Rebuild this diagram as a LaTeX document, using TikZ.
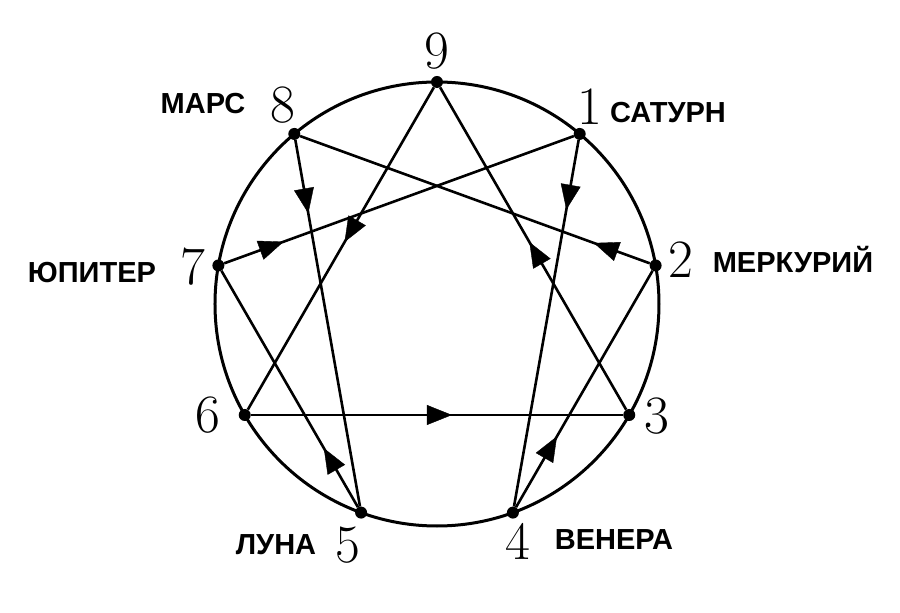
\documentclass[tikz,border=0pt]{standalone}
\usepackage{fontspec}
\newfontfamily\planetfont{Liberation Sans}
\usetikzlibrary{arrows.meta, decorations.markings}

\begin{document}
\begin{tikzpicture}[x=1pt, y=1pt,
    vertex/.style={circle, fill=black, inner sep=0pt, minimum size=12pt},
    digit/.style={font=\fontsize{54}{54}\selectfont, inner sep=0pt, text height=35pt, text depth=0pt},
    planet/.style={font={\planetfont\bfseries\fontsize{29}{29}\selectfont}, inner sep=0pt, text height=21pt, text depth=0pt},
    flow/.style={line width=2.6pt, postaction={decorate, decoration={markings, mark=at position #1 with {\arrow[line width=0.4pt]{Triangle[length=25pt, width=20pt]}}}}}]
    \useasboundingbox (-437,-309) rectangle (463,304);

    \node (ring) [circle, draw, line width=3pt, outer sep=0pt, inner sep=0pt, minimum size=444pt] at (0,0) {};

    % points on the circle
    \node (v9) [vertex] at (ring.90) {};
    \node (v1) [vertex] at (ring.50) {};
    \node (v2) [vertex] at (ring.10) {};
    \node (v3) [vertex] at (ring.-30) {};
    \node (v4) [vertex] at (ring.-70) {};
    \node (v5) [vertex] at (ring.-110) {};
    \node (v6) [vertex] at (ring.-150) {};
    \node (v7) [vertex] at (ring.170) {};
    \node (v8) [vertex] at (ring.130) {};

    % numbers
    \node (n9) [digit] at (0,253) {9};
    \node (n1) [digit] at (153,197) {1};
    \node (n2) [digit] at (244,44) {2};
    \node (n3) [digit] at (220,-112) {3};
    \node (n4) [digit] at (81,-238) {4};
    \node (n5) [digit] at (-89,-241) {5};
    \node (n6) [digit] at (-229,-111) {6};
    \node (n7) [digit] at (-244,37) {7};
    \node (n8) [digit] at (-154,199) {8};

    % planets
    \node (mars) [planet] at (-234,201) {МАРС};
    \node (saturn) [planet] at (231,192) {САТУРН};
    \node (mercury) [planet] at (356,42) {МЕРКУРИЙ};
    \node (jupiter) [planet] at (-345,32) {ЮПИТЕР};
    \node (moon) [planet] at (-161,-240) {ЛУНА};
    \node (venus) [planet] at (177,-235) {ВЕНЕРА};

    \draw [flow=0.2] (v8) -- (v5);
    \draw [flow=0.25] (v5) -- (v7);
    \draw [flow=0.17] (v7) -- (v1);
    \draw [flow=0.19] (v1) -- (v4);
    \draw [flow=0.3] (v4) -- (v2);
    \draw [flow=0.16] (v2) -- (v8);
    \draw [flow=0.48] (v9) -- (v6);
    \draw [flow=0.54] (v6) -- (v3);
    \draw [flow=0.52] (v3) -- (v9);
\end{tikzpicture}
\end{document}
